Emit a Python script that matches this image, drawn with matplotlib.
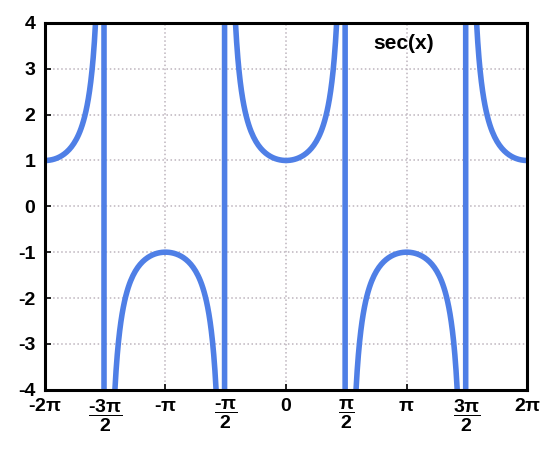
import numpy as np
import matplotlib.pyplot as plt

plt.rcParams['font.family'] = ['Liberation Sans', 'DejaVu Sans']
plt.rcParams['font.weight'] = 'bold'
plt.rcParams['axes.unicode_minus'] = False
plt.rcParams['mathtext.fontset'] = 'custom'
plt.rcParams['mathtext.rm'] = 'Liberation Sans:bold'
plt.rcParams['mathtext.it'] = 'Liberation Sans:bold'
plt.rcParams['mathtext.bf'] = 'Liberation Sans:bold'
plt.rcParams['mathtext.default'] = 'bf'

# === DATOS ===
x_ticks = np.array([-2, -1.5, -1, -0.5, 0, 0.5, 1, 1.5, 2]) * np.pi
x_labels = [r'-2$\pi$', r'$\dfrac{\text{-}3\pi}{2}$', r'-$\pi$', r'$\dfrac{\text{-}\pi}{2}$', '0',
            r'$\dfrac{\pi}{2}$', r'$\pi$', r'$\dfrac{3\pi}{2}$', r'2$\pi$']
y_ticks = [-4, -3, -2, -1, 0, 1, 2, 3, 4]
label = 'sec(x)'

x = np.linspace(-2 * np.pi, 2 * np.pi, 401)
y = 1 / np.cos(x)

fig = plt.figure(figsize=(5.48, 4.5), dpi=100)
ax = fig.add_axes([0.082, 0.134, 0.880, 0.815])

ax.plot(x, y, color='#4f7fe6', linewidth=4.0)

ax.set_xlim(-2 * np.pi, 2 * np.pi)
ax.set_ylim(-4, 4)
ax.set_xticks(x_ticks)
ax.set_xticklabels(x_labels, va='top')
ax.set_yticks(y_ticks)
ax.tick_params(labelsize=14, direction='in', length=4, width=1.2)
ax.tick_params(axis='x', pad=6)
ax.tick_params(axis='y', pad=7)

ax.grid(True, color='#bdb4bd', linestyle=':', linewidth=1.1)
for s in ax.spines.values():
    s.set_linewidth(2.2)
    s.set_color('black')

ax.text(0.72 * np.pi, 3.55, label, fontsize=15, fontweight='bold', ha='left', va='center')

fig.savefig('out.png', dpi=100)
